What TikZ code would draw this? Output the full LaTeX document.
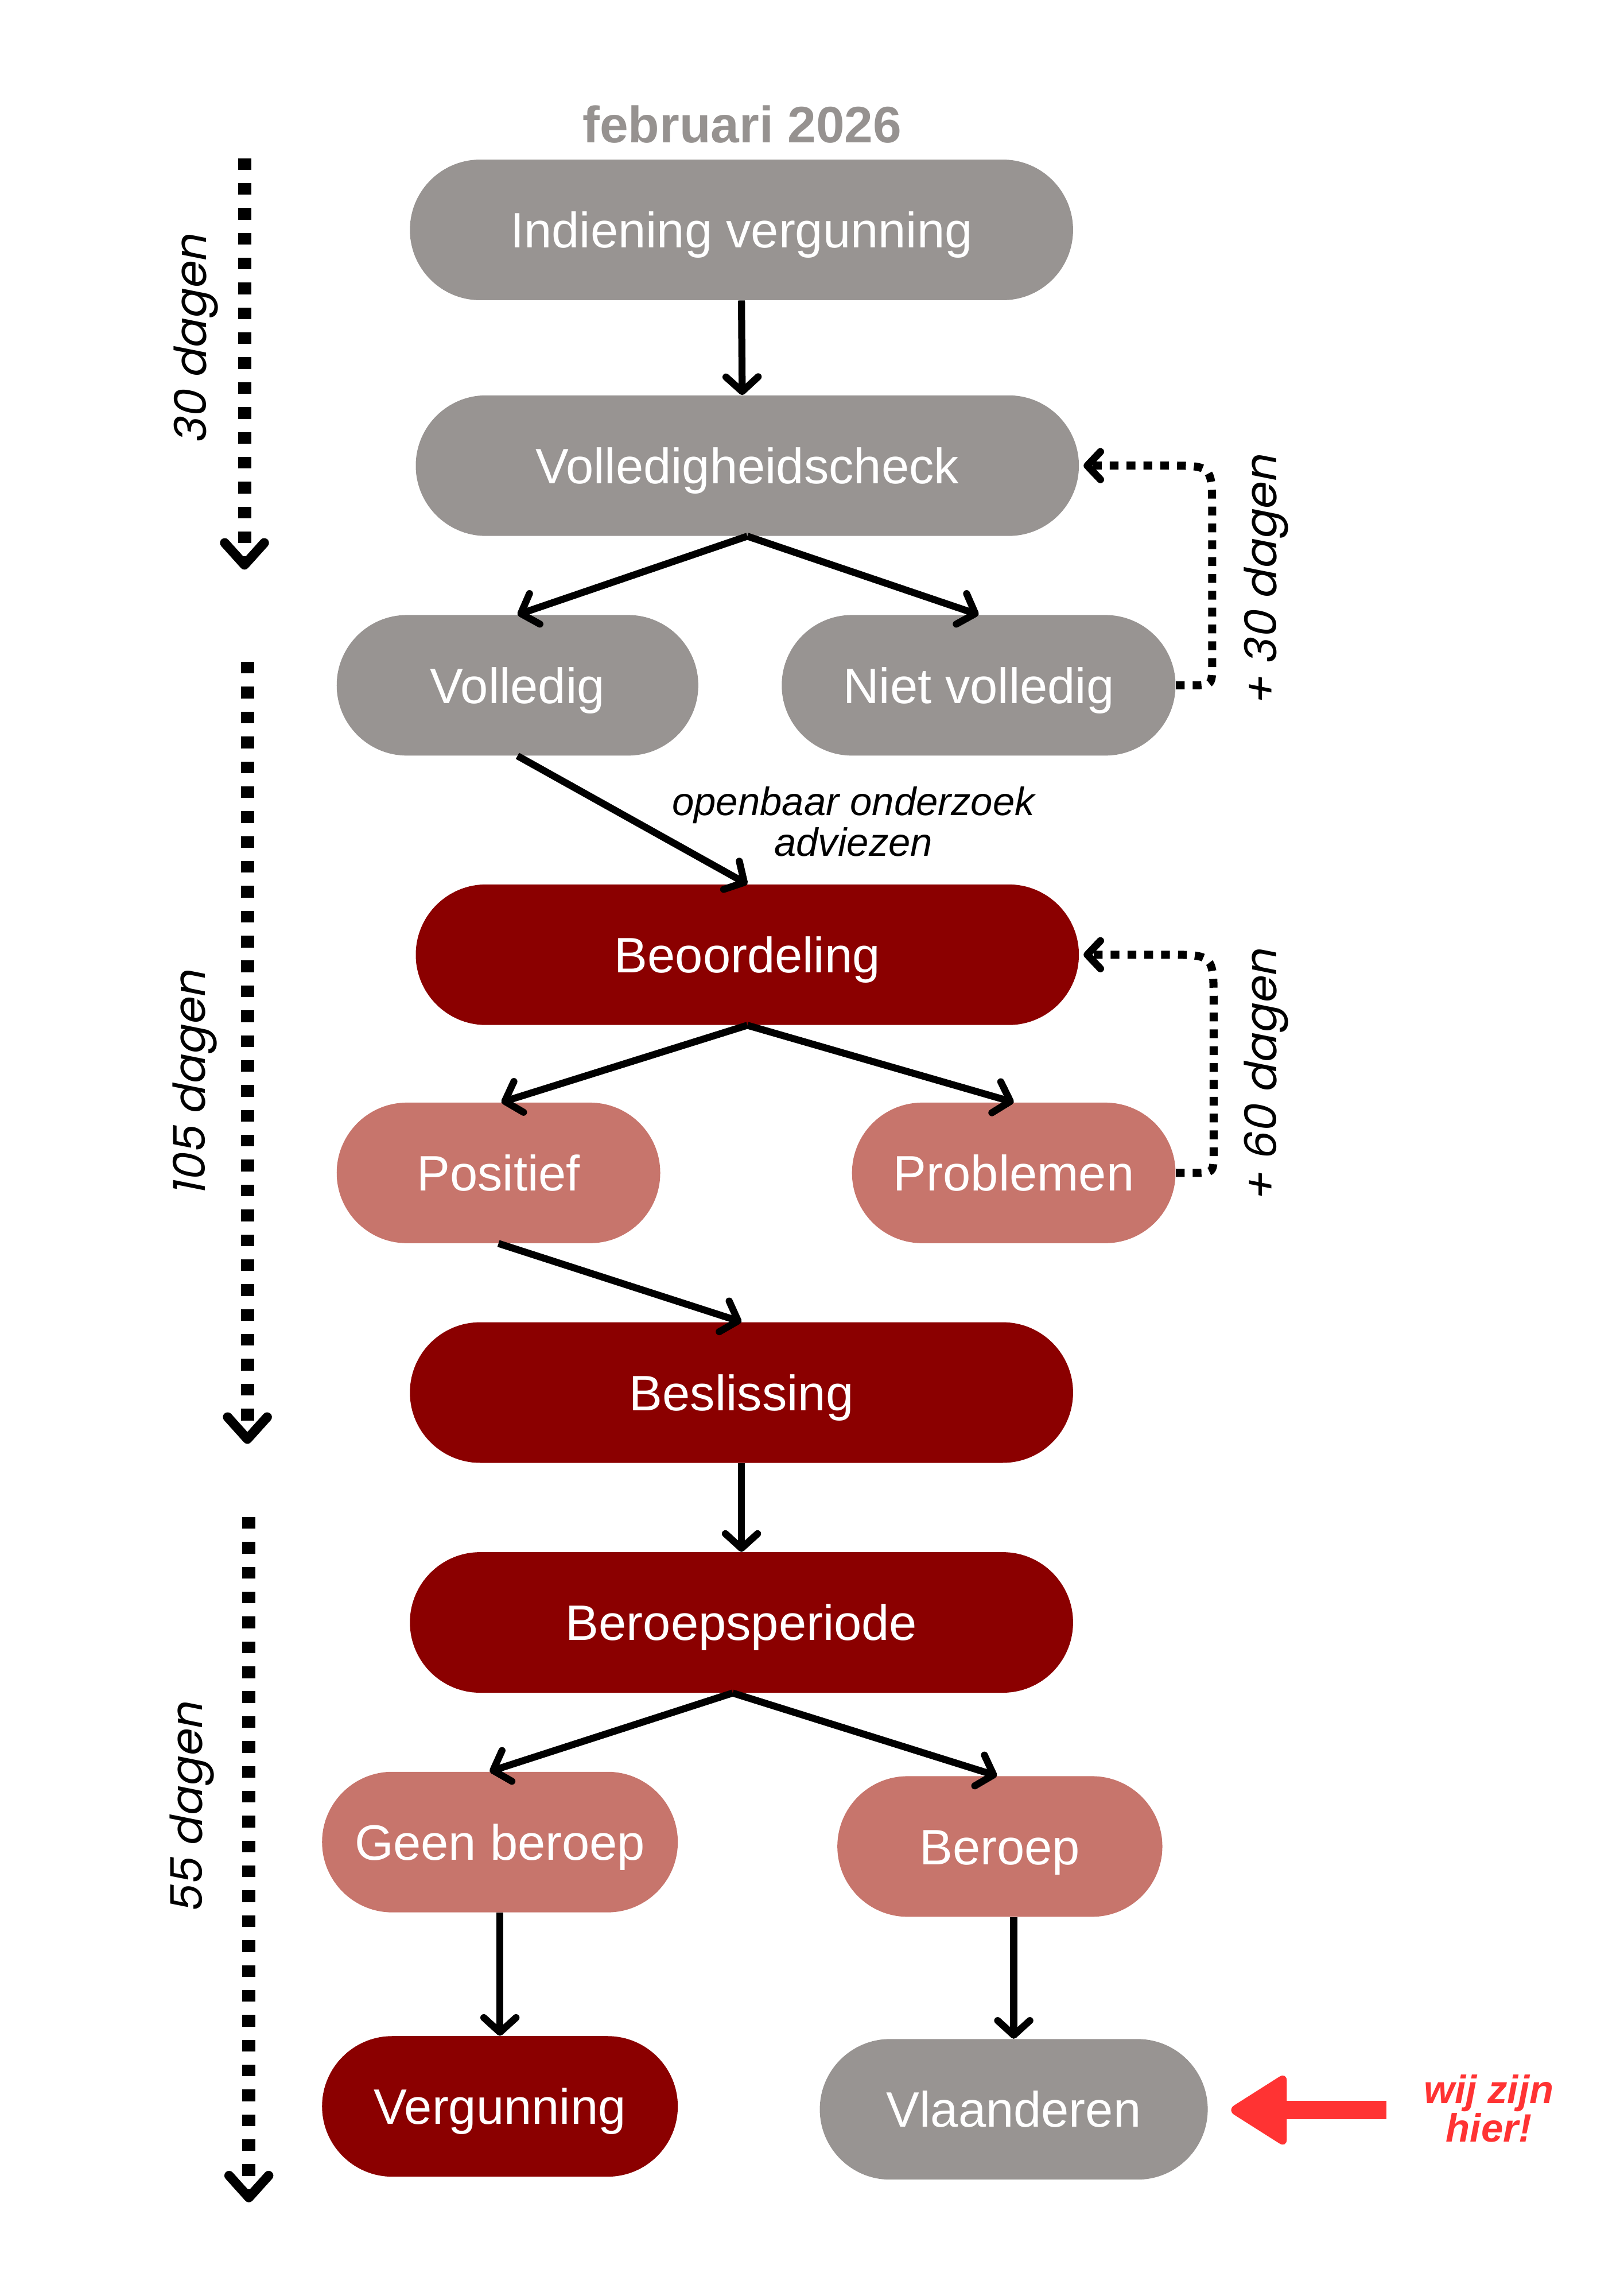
\documentclass[tikz,border=0pt]{standalone}
\usepackage{fontspec}
\setmainfont{Liberation Sans}
\newfontfamily\popit{Poppins}[FakeSlant=0.2]
\usetikzlibrary{arrows.meta,calc}
\definecolor{pgray}{RGB}{152,148,146}
\definecolor{tgray}{RGB}{150,146,144}
\definecolor{pdark}{RGB}{139,0,0}
\definecolor{psalmon}{RGB}{199,117,108}
\definecolor{wijred}{RGB}{255,51,51}
\begin{document}
\begin{tikzpicture}[x=1pt,y=-1pt,
  pill/.style={rectangle, rounded corners=48pt, minimum height=96pt, inner sep=0pt,
    text height=24.4pt, text depth=0pt,
    text=white, font=\fontsize{34}{40}\selectfont},
  greypill/.style={pill, fill=pgray},
  darkpill/.style={pill, fill=pdark},
  lightpill/.style={pill, fill=psalmon},
  conn/.style={line width=4.8pt, -{Straight Barb[length=10pt,width=22pt,round]}},
  tline/.style={line width=9pt, dash pattern=on 8pt off 9pt,
    -{Straight Barb[length=15pt,width=27pt,round,line width=6.5pt]}},
  fb/.style={line width=5.5pt, dash pattern=on 6pt off 5.5pt,
    -{Straight Barb[length=9pt,width=19pt,round,line width=5pt]}},
  daglabel/.style={rotate=90, font=\popit\fontsize{30}{32}\selectfont, inner sep=0pt},
]
\useasboundingbox (0,0) rectangle (1109,1568);

% title
\node[text=tgray, font=\bfseries\fontsize{35}{40}\selectfont] (title) at (507,85) {februari 2026};

% nodes
\node[greypill, minimum width=453pt] (ind)  at (506.5,157) {Indiening vergunning};
\node[greypill, minimum width=453pt] (vol)  at (510.5,318) {Volledigheidscheck};
\node[greypill, minimum width=247pt] (vold) at (353.5,468) {Volledig};
\node[greypill, minimum width=269pt] (niet) at (668.5,468) {Niet volledig};
\node[darkpill, minimum width=453pt] (beo)  at (510.5,652) {Beoordeling};
\node[lightpill, minimum width=221pt] (pos) at (340.5,801) {Positief};
\node[lightpill, minimum width=221pt] (prob) at (692.5,801) {Problemen};
\node[darkpill, minimum width=453pt] (besl) at (506.5,951) {Beslissing};
\node[darkpill, minimum width=453pt] (berp) at (506.5,1108) {Beroepsperiode};
\node[lightpill, minimum width=243pt] (geen) at (341.5,1258) {Geen beroep};
\node[lightpill, minimum width=222pt] (ber) at (683,1261) {Beroep};
\node[darkpill, minimum width=243pt] (verg) at (341.5,1438.5) {Vergunning};
\node[greypill, minimum width=265pt] (vla) at (692.5,1440.5) {Vlaanderen};

% connectors
\draw[conn] (ind.south) -- ($(vol.north)+(-3.5,0)$);
\draw[conn] (vol.south) -- (vold.north);
\draw[conn] (vol.south) -- (niet.north);
\draw[conn] (vold.south) -- (beo.north);
\draw[conn] (beo.south) -- ($(pos.north)+(2,0)$);
\draw[conn] (beo.south) -- (prob.north);
\draw[conn] (pos.south) -- (besl.north);
\draw[conn] (besl.south) -- (berp.north);
\draw[conn] ($(berp.south)+(-6,0)$) -- ($(geen.north)+(-7,0)$);
\draw[conn] ($(berp.south)+(-6,0)$) -- ($(ber.north)+(-2,0)$);
\draw[conn] (geen.south) -- (verg.north);
\draw[conn] (vla.north |- ber.south) -- (vla.north);

\node[font=\itshape\fontsize{27}{28}\selectfont, align=center, inner sep=0pt] (onder) at (583,561)
  {openbaar onderzoek\\adviezen};

% feedback loops
\draw[fb] (niet.east) -- (814,468) .. controls (828,468) and (828,468) .. (828,454)
  -- (828,348) .. controls (828,318) .. (798,318) -- ($(vol.east)+(3,0)$);
\draw[fb] (prob.east) -- (815,801) .. controls (829,801) and (829,801) .. (829,787)
  -- (829,684) .. controls (829,652) .. (797,652) -- ($(beo.east)+(3,0)$);
\node[daglabel] (l30b) at (865,397) {+ 30 dagen};
\node[daglabel] (l60) at (865,735) {+ 60 dagen};

% time lines
\coordinate (t1a) at (167,108);
\coordinate (t1b) at (167,389);
\coordinate (t2a) at (169,452);
\coordinate (t2b) at (169,986);
\coordinate (t3a) at (170,1036);
\coordinate (t3b) at (170,1504);
\draw[tline] (t1a) -- (t1b);
\draw[tline] (t2a) -- (t2b);
\draw[tline] (t3a) -- (t3b);
\node[daglabel] (l30) at (134,232) {30 dagen};
\node[daglabel] (l105) at (133,740) {105 dagen};
\node[daglabel] (l55) at (131,1235) {55 dagen};

% "wij zijn hier" pointer
\coordinate (rtail) at (947,1441);
\coordinate (rtip) at (838,1441);
\fill[wijred] ($(rtail)+(0,-6.2)$) rectangle ($(rtip)+(40,6.2)$);
\fill[wijred, rounded corners=6pt] (rtip) -- ($(rtip)+(41,-26)$) -- ($(rtip)+(41,26)$) -- cycle;
\node[text=wijred, font=\bfseries\itshape\fontsize{27}{26}\selectfont, align=center, inner sep=0pt]
  (wij) at (1017,1440) {wij zijn\\hier!};
\end{tikzpicture}
\end{document}
